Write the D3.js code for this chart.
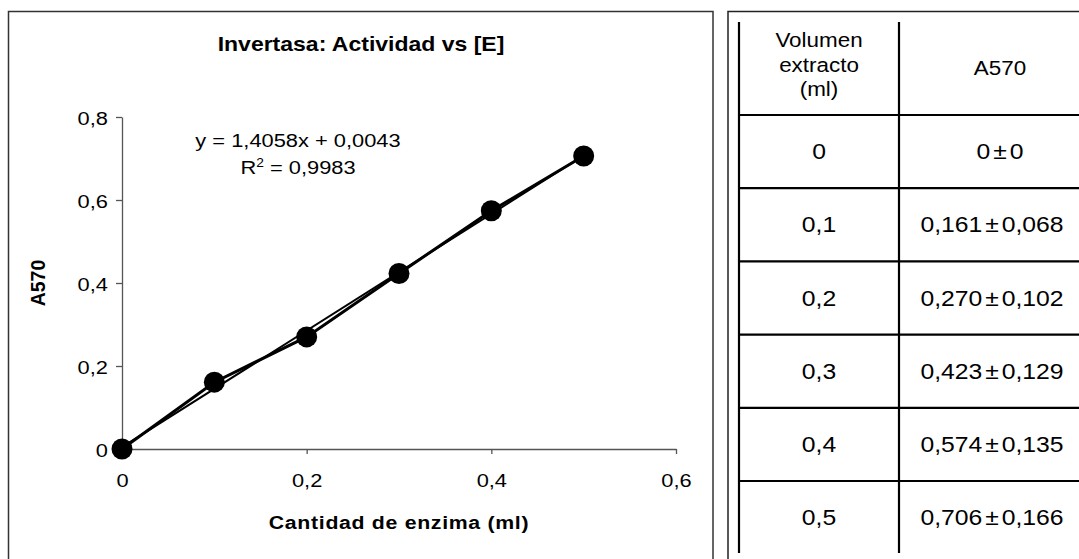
<!DOCTYPE html>
<html>
<head>
<meta charset="utf-8">
<script src="https://cdn.jsdelivr.net/npm/d3@7"></script>
<style>
  html, body { margin: 0; padding: 0; background: #fff; }
  svg { display: block; font-family: Arial, "Liberation Sans", sans-serif; }
</style>
</head>
<body>
<svg id="fig" width="1079" height="559"></svg>
<script>
// Enzyme volume (ml) and mean absorbance at 570 nm
const volumes = [0, 0.1, 0.2, 0.3, 0.4, 0.5];
const absorbance = [0, 0.161, 0.270, 0.423, 0.574, 0.706];
const stdDev = [0, 0.068, 0.102, 0.129, 0.135, 0.166];
// Linear fit reported on the chart
const fitSlope = 1.4058;
const fitIntercept = 0.0043;
const fitR2 = 0.9983;
const xTicks = [0, 0.2, 0.4, 0.6];
const yTicks = [0, 0.2, 0.4, 0.6, 0.8];
const tableHeader = [["Volumen", "extracto", "(ml)"], ["A570"]];

const SX = 1.15; // horizontal text stretch
const loc = d3.formatLocale({ decimal: ",", thousands: ".", grouping: [3], currency: ["", "€"] });
const f1 = v => v === 0 ? "0" : loc.format(".1f")(v);
const f3 = v => v === 0 ? "0" : loc.format(".3f")(v);
const f4 = loc.format(".4f");

const svg = d3.select("#fig");

function label(g, x, y, str, o = {}) {
  return g.append("text")
    .attr("transform", `translate(${x},${y}) scale(${SX},1)`)
    .attr("text-anchor", o.anchor || "middle")
    .attr("font-size", o.size || 19)
    .attr("font-weight", o.bold ? "bold" : "normal")
    .attr("letter-spacing", o.ls || 0)
    .attr("fill", "#000")
    .text(str);
}

// ---------- chart panel ----------
svg.append("rect")
  .attr("x", 8.5).attr("y", 11.5).attr("width", 704.5).attr("height", 580)
  .attr("fill", "#fff").attr("stroke", "#333").attr("stroke-width", 1.5);

const x = d3.scaleLinear().domain([0, 0.6]).range([122, 676]);
const y = d3.scaleLinear().domain([0, 0.8]).range([449, 117]);

const chart = svg.append("g");

const xAxis = chart.append("g")
  .attr("transform", `translate(0,${y(0)})`)
  .call(d3.axisBottom(x).tickValues(xTicks).tickSize(5).tickSizeOuter(0).tickFormat(f1));
const yAxis = chart.append("g")
  .attr("transform", `translate(${x(0)},0)`)
  .call(d3.axisLeft(y).tickValues(yTicks).tickSize(6).tickSizeOuter(0).tickFormat(f1));

[xAxis, yAxis].forEach(a => {
  a.select(".domain").attr("stroke", "#555").attr("stroke-width", 1.3);
  a.selectAll(".tick line").attr("stroke", "#555").attr("stroke-width", 1.3);
  a.selectAll("text").attr("font-size", 19).attr("fill", "#000")
    .attr("font-family", "Arial, 'Liberation Sans', sans-serif");
});
xAxis.selectAll(".tick text")
  .attr("x", null).attr("y", null).attr("dy", null)
  .attr("transform", `translate(0,38) scale(${SX},1)`);
yAxis.selectAll(".tick text")
  .attr("x", null).attr("dy", null)
  .attr("text-anchor", "end")
  .attr("transform", `translate(-14,7) scale(${SX},1)`);

// trend line over the measured range
const xExt = d3.extent(volumes);
chart.append("line")
  .attr("x1", x(xExt[0])).attr("y1", y(fitIntercept + fitSlope * xExt[0]))
  .attr("x2", x(xExt[1])).attr("y2", y(fitIntercept + fitSlope * xExt[1]))
  .attr("stroke", "#000").attr("stroke-width", 2);

// measured series
const pts = volumes.map((v, i) => [v, absorbance[i]]);
chart.append("path")
  .attr("d", d3.line().x(d => x(d[0])).y(d => y(d[1]))(pts))
  .attr("fill", "none").attr("stroke", "#000").attr("stroke-width", 3);
chart.selectAll("circle.pt").data(pts).join("circle")
  .attr("class", "pt")
  .attr("cx", d => x(d[0])).attr("cy", d => y(d[1])).attr("r", 10.5)
  .attr("fill", "#000");

// titles and fit annotation
label(chart, 361, 51, "Invertasa: Actividad vs [E]", { size: 20, bold: true });
label(chart, 399, 529, "Cantidad de enzima (ml)", { size: 18.5, bold: true, ls: 0.6 });
chart.append("text")
  .attr("transform", "translate(45,283) rotate(-90)")
  .attr("text-anchor", "middle").attr("font-size", 19.5).attr("font-weight", "bold")
  .text("A570");

label(chart, 298, 147, `y = ${f4(fitSlope)}x + ${f4(fitIntercept)}`);
const r2 = label(chart, 298, 174, "");
r2.append("tspan").text("R");
r2.append("tspan").attr("font-size", 12).attr("dy", -7).text("2");
r2.append("tspan").attr("dy", 7).text(` = ${f4(fitR2)}`);

// ---------- data table ----------
const tbl = svg.append("g");
tbl.append("rect")
  .attr("x", 728).attr("y", 11.5).attr("width", 400).attr("height", 600)
  .attr("fill", "#fff").attr("stroke", "#222").attr("stroke-width", 1.5);

const colX = [739, 899, 1110];
const headTop = 22, headBottom = 115, rowH = 73.2;
const rowY = volumes.map((_, i) => headBottom + i * rowH);
const tableBottom = 553;

colX.slice(0, 2).forEach(cx => {
  tbl.append("line").attr("x1", cx).attr("x2", cx)
    .attr("y1", headTop).attr("y2", tableBottom)
    .attr("stroke", "#000").attr("stroke-width", 2.2);
});
rowY.forEach(ry => {
  tbl.append("line").attr("x1", colX[0]).attr("x2", 1079)
    .attr("y1", ry).attr("y2", ry)
    .attr("stroke", "#000").attr("stroke-width", 2.2);
});

const c1 = (colX[0] + colX[1]) / 2;
const c2 = 992;
const HS = 19.5, RS = 21.5;
tableHeader[0].forEach((t, i) => label(tbl, c1, 47 + i * 24.5, t, { size: HS }));
label(tbl, c2 + 8, 75, tableHeader[1][0], { size: HS });

volumes.forEach((v, i) => {
  const cy = rowY[i] + rowH / 2 + 7.5;
  label(tbl, c1, cy, f1(v), { size: RS });
  const t = label(tbl, i === 0 ? c2 + 8 : c2, cy, "", { size: RS });
  t.append("tspan").text(f3(absorbance[i]));
  t.append("tspan").attr("dx", 2.5).text("±");
  t.append("tspan").attr("dx", 2.5).text(f3(stdDev[i]));
});
</script>
</body>
</html>
